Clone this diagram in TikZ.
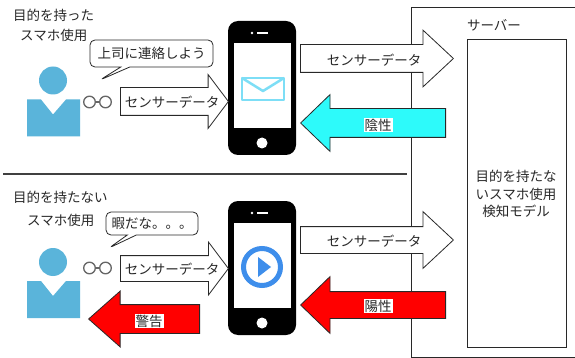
\documentclass[tikz,border=0pt]{standalone}
\usepackage{fontspec}
\setmainfont{Noto Sans CJK JP}
\usetikzlibrary{shapes.arrows, shapes.callouts}
\definecolor{personblue}{RGB}{90,180,218}
\definecolor{mailcyan}{RGB}{125,222,246}
\definecolor{playblue}{RGB}{62,142,235}
\definecolor{negcyan}{RGB}{45,250,250}
\definecolor{inkgray}{RGB}{40,40,40}

\tikzset{
    txt/.style={font=\fontsize{13.5}{17.5}\selectfont, text=inkgray, inner sep=1pt},
    bigarrow/.style={single arrow, draw=inkgray, fill=white, line width=0.8pt, inner sep=0pt, anchor=tail},
    phone/.style={fill=black, rounded corners=10pt, minimum width=68pt, minimum height=134pt, inner sep=0pt},
    screen/.style={fill=white, minimum width=57pt, minimum height=85pt, inner sep=0pt},
    bubble/.style={rectangle callout, draw=inkgray, fill=white, line width=0.8pt, rounded corners=5pt, inner sep=0pt, callout pointer width=9pt}
}

\begin{document}
\begin{tikzpicture}[x=1pt, y=-1pt]
    \clip (0,0) rectangle (575,358);
    \fill[white] (0,0) rectangle (575,358);

    % server side
    \node[draw=inkgray, line width=0.8pt, minimum width=180pt, minimum height=350pt, inner sep=0pt] (server) at (501,182) {};
    \node[txt] (serverlabel) at (494,25) {サーバー};
    \node[draw=inkgray, line width=0.8pt, minimum width=99pt, minimum height=308pt, inner sep=0pt] (model) at (516.5,193) {};
    \node[txt, align=center] (modeltext) at (516,194) {目的を持たな\\いスマホ使用\\検知モデル};

    \draw[black!75, line width=1.2pt] (3,174) -- (407,174);

    % phones
    \foreach \dy/\n in {0/A, 180/B} {
        \node[phone] (phone\n) at (262,88+\dy) {};
        \node[screen] (screen\n) at (262.5,85.5+\dy) {};
        \draw[white, line width=2.5pt] (257,33+\dy) -- (268,33+\dy);
        \fill[white] (252,33+\dy) circle (1.3);
        \fill[white] (262,143+\dy) circle (5.5);
    }
    \draw[mailcyan, line width=2.5pt, line join=round] (242,78) rectangle (284,100);
    \draw[mailcyan, line width=2.5pt, line join=round] (242,78) -- (263,91) -- (284,78);
    \draw[playblue, line width=5pt] (screenB.center) ++(-0.5,1.5) circle (18.5);
    \fill[playblue] (258,257) -- (258,277) -- (271,267) -- cycle;

    % users
    \foreach \dy/\n in {0/A, 181.5/B} {
        \fill[personblue] (53,80.5+\dy) circle (14);
        \fill[personblue] (27,99.5+\dy) -- (41,99.5+\dy) -- (53,114.5+\dy) -- (66,99.5+\dy)
            -- (80,99.5+\dy) -- (80,136.5+\dy) -- (27,136.5+\dy) -- cycle;
    }
    \foreach \y in {102, 268} {
        \draw[black!60, line width=1.3pt] (89.5,\y) circle (5.8) (105.5,\y) circle (5.8);
        \draw[black!60, line width=1.3pt] (95.3,\y) -- (99.7,\y);
    }

    \node[txt, anchor=west] (userA) at (12,15) {目的を持った};
    \node[txt, anchor=west] (userAb) at (19,35) {スマホ使用};
    \node[txt, anchor=west] (userB) at (12,197) {目的を持たない};
    \node[txt, anchor=west] (userBb) at (26,220) {スマホ使用};

    \node[bubble, txt, minimum width=123pt, minimum height=27pt, callout absolute pointer={(100,80)}] (thinkA) at (151.5,53.5) {上司に連絡しよう};
    \node[bubble, txt, minimum width=92pt, minimum height=23pt, callout absolute pointer={(109,248)}] (thinkB) at (152,223.5) {暇だな。。。};

    % sensor data, user to phone
    \node[bigarrow, inner ysep=13.5pt, single arrow head extend=13pt, single arrow tip angle=106, minimum height=108pt] (senseA) at (120,101.5) {};
    \node[txt] at (172,102) {センサーデータ};
    \node[bigarrow, inner ysep=12.5pt, single arrow head extend=13.5pt, single arrow tip angle=106, minimum height=108pt] (senseB) at (120,268.5) {};
    \node[txt] at (172,269) {センサーデータ};

    % sensor data, phone to server
    \node[bigarrow, inner ysep=13.5pt, single arrow head extend=14.5pt, single arrow tip angle=86, minimum height=153pt] (sendA) at (300,58.5) {};
    \node[txt] at (374,60) {センサーデータ};
    \node[bigarrow, inner ysep=13pt, single arrow head extend=15pt, single arrow tip angle=86, minimum height=153pt] (sendB) at (300,240) {};
    \node[txt] at (374,241) {センサーデータ};

    % results back to the phone and the user
    \node[bigarrow, fill=negcyan, shape border rotate=180, inner ysep=14pt, single arrow head extend=14pt, single arrow tip angle=88, minimum height=145pt] (neg) at (446,123) {};
    \node[txt, fill=white] at (378,125) {陰性};
    \node[bigarrow, fill=red, shape border rotate=180, inner ysep=13pt, single arrow head extend=15pt, single arrow tip angle=88, minimum height=145pt] (pos) at (446,305) {};
    \node[txt, fill=white] at (378,306) {陽性};
    \node[bigarrow, fill=red, shape border rotate=180, inner ysep=14pt, single arrow head extend=13.5pt, single arrow tip angle=83, minimum height=111pt] (alert) at (200,319) {};
    \node[txt, fill=white] at (149,321) {警告};
\end{tikzpicture}
\end{document}
